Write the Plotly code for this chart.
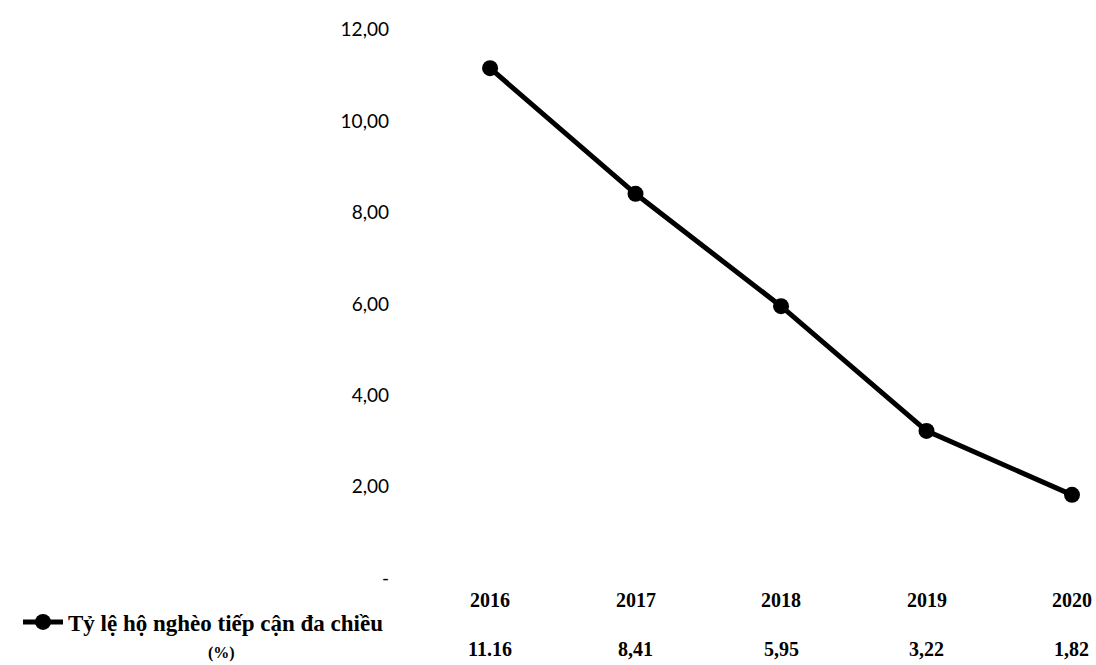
import plotly.graph_objects as go

years = [2016, 2017, 2018, 2019, 2020]
poverty_rate = [11.16, 8.41, 5.95, 3.22, 1.82]
value_labels = ["11.16", "8,41", "5,95", "3,22", "1,82"]
y_ticks = [0, 2, 4, 6, 8, 10, 12]
y_tick_text = ["-", "2,00", "4,00", "6,00", "8,00", "10,00", "12,00"]
series_name = "Tỷ lệ hộ nghèo tiếp cận đa chiều"

# plot area geometry (pixels)
M_L, M_R, M_T, M_B = 400, 0, 7, 87
W, H = 1096, 665
PH = H - M_T - M_B
PW = W - M_L - M_R


def py(pix):
    """paper y for a pixel row"""
    return (H - M_B - pix) / PH


def px(pix):
    """paper x for a pixel column"""
    return (pix - M_L) / PW


fig = go.Figure()
fig.add_trace(go.Scatter(
    x=years, y=poverty_rate, mode="lines+markers", name=f"<b>{series_name}</b>",
    line=dict(color="black", width=5),
    marker=dict(color="black", size=16),
))

table_font = dict(family="Liberation Serif", size=20, color="black")
annotations = []
for yr, lbl in zip(years, value_labels):
    annotations.append(dict(x=yr, y=py(600), xref="x", yref="paper", text=f"<b>{yr}</b>",
                            showarrow=False, font=table_font, yanchor="middle"))
    annotations.append(dict(x=yr, y=py(649), xref="x", yref="paper", text=f"<b>{lbl}</b>",
                            showarrow=False, font=table_font, yanchor="middle"))
annotations.append(dict(x=px(221), y=py(653), xref="paper", yref="paper",
                        text="<b>(%)</b>", showarrow=False, xanchor="center", yanchor="middle",
                        font=dict(family="Liberation Serif", size=16, color="black")))

fig.update_layout(
    width=W, height=H,
    margin=dict(l=M_L, r=M_R, t=M_T, b=M_B),
    paper_bgcolor="white", plot_bgcolor="white",
    showlegend=True,
    legend=dict(x=px(18), y=py(622), xanchor="left", yanchor="middle",
                font=dict(family="Liberation Serif", size=23, color="black"),
                itemwidth=40, bgcolor="rgba(0,0,0,0)"),
    xaxis=dict(range=[2015.381, 2020.165], showgrid=False, zeroline=False,
               showticklabels=False, showline=False),
    yaxis=dict(range=[0, 12.5], tickvals=y_ticks, ticktext=y_tick_text,
               showgrid=False, zeroline=False, showline=False,
               tickfont=dict(family="Lato", size=19, color="black"), ticklabelstandoff=10),
    annotations=annotations,
)

fig.write_html("out.html")
